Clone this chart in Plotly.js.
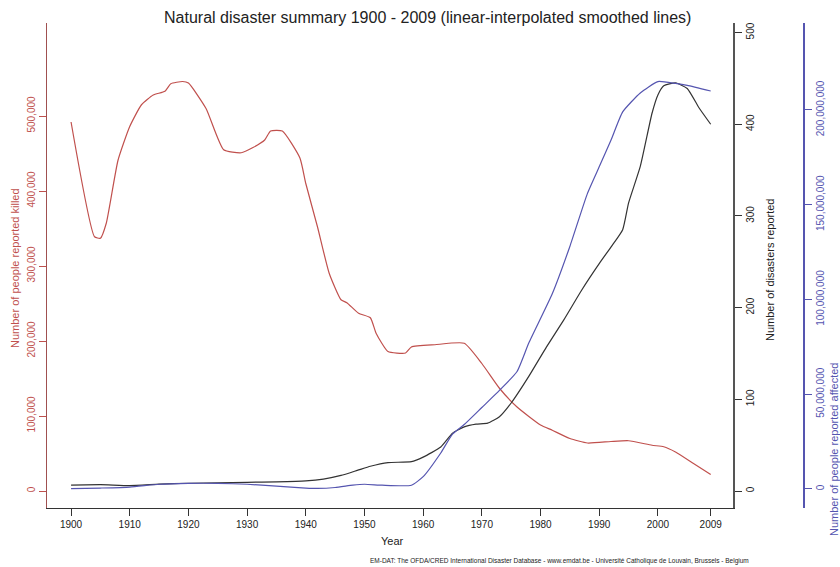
<!DOCTYPE html>
<html>
<head>
<meta charset="utf-8">
<script src="https://cdn.plot.ly/plotly-3.0.1.min.js"></script>
<style>html,body{margin:0;padding:0;background:#fff;}#chart{width:840px;height:567px;}</style>
</head>
<body>
<div id="chart"></div>
<script>
// ---- Data ----
const killedYears = [1900,1904,1905,1906,1908,1910,1912,1914,1916,1917,1919,1920,1923,1926,1929,1931,1933,1934,1936,1939,1940,1942,1944,1946,1947,1949,1951,1952,1954,1957,1958,1962,1967,1970,1973,1976,1980,1982,1985,1988,1992,1995,1999,2001,2003,2006,2009];
const killed = [492000,339000,337000,357000,441000,486000,515000,528000,533000,543000,546000,544000,510000,455000,451000,458000,468000,480000,480000,444000,410000,352000,290000,255000,251000,237000,231000,210000,186000,184000,192000,195000,197000,170000,137000,112000,88000,81000,70000,64000,66000,67000,61000,59000,52000,37000,22000];

const disasterYears = [1900,1905,1910,1915,1920,1925,1930,1935,1940,1943,1946,1949,1951,1954,1958,1960,1963,1965,1967,1969,1971,1973,1975,1978,1981,1984,1987,1990,1992,1994,1995,1997,1999,2000,2001,2003,2005,2007,2009];
const disasters = [6.5,7,6,7.5,8.5,9,9.5,10,11,13,17,23,27,31,32,37,48,63,70,73,74,81,96,125,157,187,219,248,266,285,314,354,412,432,442,445,439,418,400];

const affectedYears = [1900,1905,1910,1915,1920,1925,1930,1935,1940,1942,1945,1948,1950,1953,1958,1960,1963,1965,1967,1970,1973,1976,1978,1982,1985,1988,1990,1992,1994,1997,2000,2003,2005,2009];
const affected = [200000,500000,1000000,2500000,3000000,3000000,2500000,1500000,500000,300000,800000,2000000,2500000,2000000,2000000,6500000,19000000,29000000,34000000,43000000,52000000,62000000,77000000,103000000,128000000,156000000,170000000,184000000,199000000,209000000,215000000,214000000,213000000,210000000];

const xTicks = [1900,1910,1920,1930,1940,1950,1960,1970,1980,1990,2000,2009];
const killedTicks = [0,100000,200000,300000,400000,500000];
const disasterTicks = [0,100,200,300,400,500];
const affectedTicks = [0,50000000,100000000,150000000,200000000];

const titleText = 'Natural disaster summary 1900 - 2009 (linear-interpolated smoothed lines)';
const footerText = 'EM-DAT: The OFDA/CRED International Disaster Database - www.emdat.be - Université Catholique de Louvain, Brussels - Belgium';

// ---- Styling ----
const RED = '#c0504d', BLACK = '#333333', BLUE = '#5555b0';
const FONT = 'Liberation Sans, Arial, sans-serif';
const L = 47, R = 20, T = 23, B = 59, W = 840, H = 567;
const PW = W - L - R, PH = H - T - B;
const px = v => (v - L) / PW;
const py = v => (H - B - v) / PH;

const traces = [
  {x: killedYears, y: killed, type: 'scatter', mode: 'lines', yaxis: 'y', line: {color: RED, width: 1.2, shape: 'spline', smoothing: 0.5}, hoverinfo: 'skip'},
  {x: disasterYears, y: disasters, type: 'scatter', mode: 'lines', yaxis: 'y2', line: {color: BLACK, width: 1.2, shape: 'spline', smoothing: 0.5}, hoverinfo: 'skip'},
  {x: affectedYears, y: affected, type: 'scatter', mode: 'lines', yaxis: 'y3', line: {color: BLUE, width: 1.2, shape: 'spline', smoothing: 0.5}, hoverinfo: 'skip'}
];

const tickFont = (c) => ({family: FONT, size: 10, color: c});

const layout = {
  width: W, height: H,
  margin: {l: L, r: R, t: T, b: B, pad: 0},
  paper_bgcolor: '#fff', plot_bgcolor: '#fff',
  showlegend: false,
  xaxis: {
    domain: [0, px(733)],
    range: [1895.9, 2012.8],
    tickvals: xTicks, ticktext: xTicks.map(String),
    ticks: 'outside', ticklen: 7, tickcolor: BLACK, tickwidth: 1,
    showline: true, linecolor: BLACK, linewidth: 1,
    showgrid: false, zeroline: false,
    tickfont: tickFont('#222'),
    anchor: 'y'
  },
  yaxis: {
    range: [-22667, 624000],
    tickvals: killedTicks, tickformat: ',d',
    tickangle: -90,
    ticks: 'outside', ticklen: 7, tickcolor: RED,
    showline: true, linecolor: '#a05050', linewidth: 1,
    showgrid: false, zeroline: false,
    tickfont: tickFont(RED),
    anchor: 'x'
  },
  yaxis2: {
    range: [-18.5, 510.4],
    tickvals: disasterTicks,
    tickangle: -90,
    overlaying: 'y', side: 'right', anchor: 'x',
    ticks: 'outside', ticklen: 7, tickcolor: BLACK,
    showline: true, linecolor: '#555', linewidth: 1.5,
    showgrid: false, zeroline: false,
    tickfont: tickFont('#222')
  },
  yaxis3: {
    range: [-10030000, 245900000],
    tickvals: affectedTicks, tickformat: ',d',
    tickangle: -90,
    overlaying: 'y', side: 'right', anchor: 'free', position: px(803),
    ticks: 'outside', ticklen: 7, tickcolor: BLUE,
    showline: true, linecolor: BLUE, linewidth: 1.5,
    showgrid: false, zeroline: false,
    tickfont: tickFont(BLUE)
  },
  annotations: [
    {text: titleText, xref: 'paper', yref: 'paper', x: px(427), y: py(17), showarrow: false,
     font: {family: FONT, size: 16, color: '#222'}, xanchor: 'center', yanchor: 'middle'},
    {text: 'Year', xref: 'paper', yref: 'paper', x: px(392), y: py(541), showarrow: false,
     font: {family: FONT, size: 11, color: '#222'}, xanchor: 'center', yanchor: 'middle'},
    {text: 'Number of people reported killed', xref: 'paper', yref: 'paper', x: px(15), y: py(268), showarrow: false,
     textangle: -90, font: {family: FONT, size: 11, color: RED}, xanchor: 'center', yanchor: 'middle'},
    {text: 'Number of disasters reported', xref: 'paper', yref: 'paper', x: px(770), y: py(270), showarrow: false,
     textangle: -90, font: {family: FONT, size: 11, color: '#222'}, xanchor: 'center', yanchor: 'middle'},
    {text: 'Number of people reported affected', xref: 'paper', yref: 'paper', x: px(834), y: py(450), showarrow: false,
     textangle: -90, font: {family: FONT, size: 11, color: BLUE}, xanchor: 'center', yanchor: 'middle'},
    {text: footerText, xref: 'paper', yref: 'paper', x: px(559), y: py(561), showarrow: false,
     font: {family: FONT, size: 6.5, color: '#222'}, xanchor: 'center', yanchor: 'middle'}
  ]
};

Plotly.newPlot('chart', traces, layout, {staticPlot: true, displayModeBar: false});
</script>
</body>
</html>
